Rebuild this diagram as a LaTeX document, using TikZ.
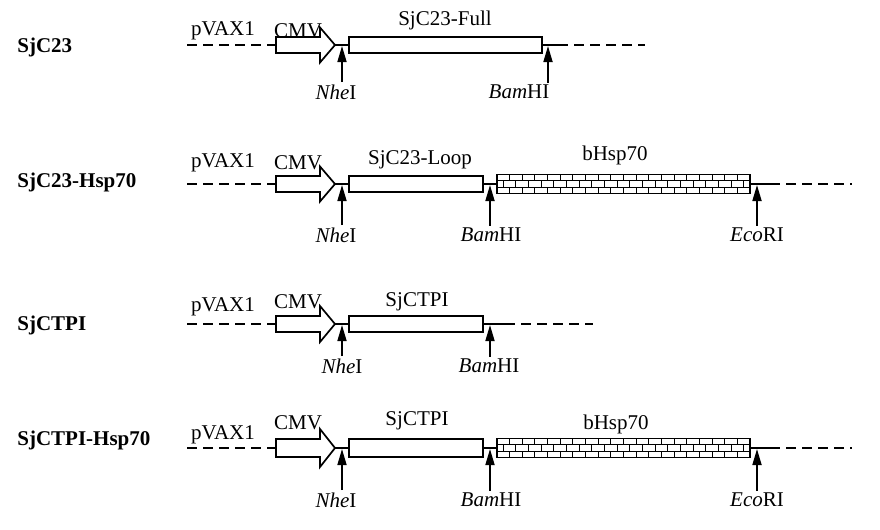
\documentclass[tikz,border=0pt]{standalone}
\usepackage{fontspec}
\setmainfont{Liberation Serif}
\usetikzlibrary{arrows.meta, positioning}
\newcommand{\brickw}{6.325pt}
\newcommand{\brickh}{3.1667pt}
\tikzset{
	txt/.style={font=\fontsize{10.5}{12}\selectfont, inner sep=1pt},
	rowname/.style={font=\fontsize{10.5}{12}\selectfont\bfseries, inner sep=0pt, anchor=west},
	genebox/.style={draw, line width=0.85pt, fill=white, inner sep=0pt, minimum height=8pt},
	brick/.style={line width=0.5pt},
	hspbox/.style={genebox, minimum height=9.5pt, path picture={
		\foreach \k in {1,2}
			\draw[brick] ([yshift=\k*\brickh]path picture bounding box.south west) -- ([yshift=\k*\brickh]path picture bounding box.south east);
		\foreach \c in {0,...,20} {
			\draw[brick] ([xshift=\c*\brickw]path picture bounding box.south west) -- ++(0pt,\brickh);
			\draw[brick] ([xshift=\c*\brickw+0.5*\brickw, yshift=\brickh]path picture bounding box.south west) -- ++(0pt,\brickh);
			\draw[brick] ([xshift=\c*\brickw, yshift=2*\brickh]path picture bounding box.south west) -- ++(0pt,\brickh);
		}
	}},
	vector/.style={line width=0.85pt, dash pattern=on 5pt off 3pt},
	link/.style={line width=0.85pt},
	cmvarrow/.style={draw, line width=0.85pt, fill=white, line join=miter},
	site/.style={line width=0.85pt, -{Triangle[width=4.5pt,length=8pt]}}
}

\begin{document}
\begin{tikzpicture}[x=0.5pt, y=-0.5pt]
	\useasboundingbox (0,0) rectangle (880,530);

	% SjC23
	\node[rowname] (name1) at (17,47) {SjC23};
	\coordinate (va1) at (187,45);
	\coordinate (cmv1) at (276,45);
	\coordinate (cmvtip1) at (335,45);
	\coordinate (vb1) at (558,45);
	\coordinate (vc1) at (645,45);
	\draw[vector] (va1) -- (cmv1);
	\draw[link] (cmvtip1) -- (vb1);
	\draw[vector] (vb1) -- (vc1);
	\draw[cmvarrow] (276,37) -- (320,37) -- (320,27.5) -- (cmvtip1) -- (320,62.5) -- (320,53) -- (276,53) -- cycle;
	\node[genebox, minimum width=96.5pt] (full1) at (445.5,45) {};
	\node[txt] (pvax1) at (223,31) {pVAX1};
	\node[txt] (cmvlab1) at (298,31) {CMV};
	\node[txt] (fulllab1) at (445,20) {SjC23-Full};
	\coordinate (nhe1) at (342,46);
	\coordinate (bam1) at (548,46);
	\node[txt] (nhelab1) at (336,92) {\textit{Nhe}I};
	\node[txt] (bamlab1) at (519,92) {\textit{Bam}HI};
	\draw[site] (nhe1 |- nhelab1.north) -- (nhe1);
	\draw[site] (bam1 |- bamlab1.north) -- (bam1);

	% SjC23-Hsp70
	\node[rowname] (name2) at (17,182) {SjC23-Hsp70};
	\coordinate (va2) at (187,184);
	\coordinate (cmv2) at (276,184);
	\coordinate (cmvtip2) at (335,184);
	\coordinate (vb2) at (770,184);
	\coordinate (vc2) at (852,184);
	\draw[vector] (va2) -- (cmv2);
	\draw[link] (cmvtip2) -- (vb2);
	\draw[vector] (vb2) -- (vc2);
	\draw[cmvarrow] (276,176) -- (320,176) -- (320,166.5) -- (cmvtip2) -- (320,201.5) -- (320,192) -- (276,192) -- cycle;
	\node[genebox, minimum width=67pt] (loop2) at (416,184) {};
	\node[hspbox, minimum width=126.5pt] (hsp2) at (623.5,184) {};
	\node[txt] (pvax2) at (223,163) {pVAX1};
	\node[txt] (cmvlab2) at (298,163) {CMV};
	\node[txt] (looplab2) at (420,160) {SjC23-Loop};
	\node[txt] (hsplab2) at (615,155) {bHsp70};
	\coordinate (nhe2) at (342,185);
	\coordinate (bam2) at (490,185);
	\coordinate (eco2) at (757,185);
	\node[txt] (nhelab2) at (336,235) {\textit{Nhe}I};
	\node[txt] (bamlab2) at (491,235) {\textit{Bam}HI};
	\node[txt] (ecolab2) at (757,235) {\textit{Eco}RI};
	\draw[site] (nhe2 |- nhelab2.north) -- (nhe2);
	\draw[site] (bam2 |- bamlab2.north) -- (bam2);
	\draw[site] (eco2 |- ecolab2.north) -- (eco2);

	% SjCTPI
	\node[rowname] (name3) at (17,325) {SjCTPI};
	\coordinate (va3) at (187,324);
	\coordinate (cmv3) at (276,324);
	\coordinate (cmvtip3) at (335,324);
	\coordinate (vb3) at (505,324);
	\coordinate (vc3) at (593,324);
	\draw[vector] (va3) -- (cmv3);
	\draw[link] (cmvtip3) -- (vb3);
	\draw[vector] (vb3) -- (vc3);
	\draw[cmvarrow] (276,316) -- (320,316) -- (320,306) -- (cmvtip3) -- (320,342) -- (320,332) -- (276,332) -- cycle;
	\node[genebox, minimum width=67pt] (ctpi3) at (416,324) {};
	\node[txt] (pvax3) at (223,307) {pVAX1};
	\node[txt] (cmvlab3) at (298,302) {CMV};
	\node[txt] (ctpilab3) at (417,302) {SjCTPI};
	\coordinate (nhe3) at (342,325);
	\coordinate (bam3) at (490,325);
	\node[txt] (nhelab3) at (342,366) {\textit{Nhe}I};
	\node[txt] (bamlab3) at (489,366) {\textit{Bam}HI};
	\draw[site] (nhe3 |- nhelab3.north) -- (nhe3);
	\draw[site] (bam3 |- bamlab3.north) -- (bam3);

	% SjCTPI-Hsp70
	\node[rowname] (name4) at (17,440) {SjCTPI-Hsp70};
	\coordinate (va4) at (187,448);
	\coordinate (cmv4) at (276,448);
	\coordinate (cmvtip4) at (335,448);
	\coordinate (vb4) at (770,448);
	\coordinate (vc4) at (852,448);
	\draw[vector] (va4) -- (cmv4);
	\draw[link] (cmvtip4) -- (vb4);
	\draw[vector] (vb4) -- (vc4);
	\draw[cmvarrow] (276,439) -- (320,439) -- (320,429) -- (cmvtip4) -- (320,467) -- (320,457) -- (276,457) -- cycle;
	\node[genebox, minimum width=67pt, minimum height=9pt] (ctpi4) at (416,448) {};
	\node[hspbox, minimum width=126.5pt] (hsp4) at (623.5,448) {};
	\node[txt] (pvax4) at (223,435) {pVAX1};
	\node[txt] (cmvlab4) at (298,423) {CMV};
	\node[txt] (ctpilab4) at (417,421) {SjCTPI};
	\node[txt] (hsplab4) at (616,424) {bHsp70};
	\coordinate (nhe4) at (342,449);
	\coordinate (bam4) at (490,449);
	\coordinate (eco4) at (757,449);
	\node[txt] (nhelab4) at (336,500) {\textit{Nhe}I};
	\node[txt] (bamlab4) at (491,500) {\textit{Bam}HI};
	\node[txt] (ecolab4) at (757,500) {\textit{Eco}RI};
	\draw[site] (nhe4 |- nhelab4.north) -- (nhe4);
	\draw[site] (bam4 |- bamlab4.north) -- (bam4);
	\draw[site] (eco4 |- ecolab4.north) -- (eco4);
\end{tikzpicture}
\end{document}
